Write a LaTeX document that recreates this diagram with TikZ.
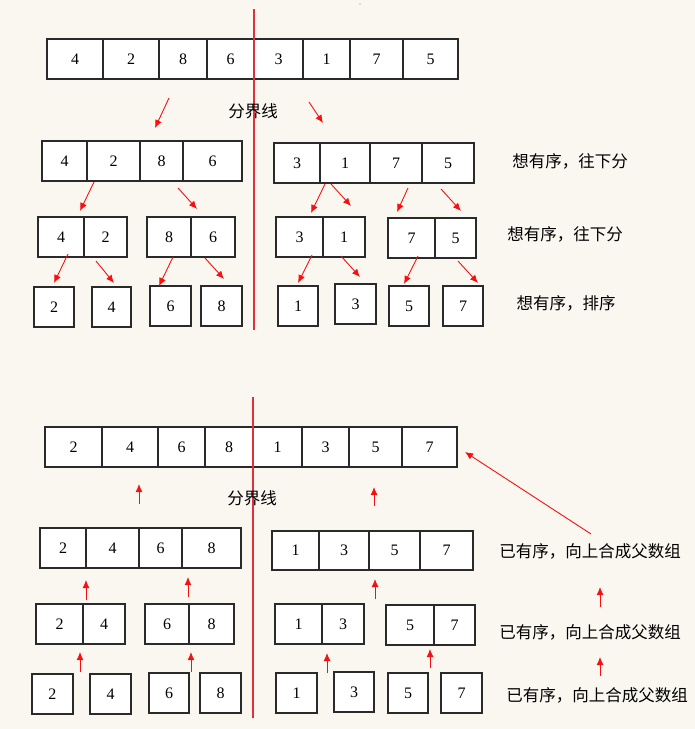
\documentclass[tikz,border=0pt]{standalone}
\usepackage{fontspec}
\setmainfont{Liberation Serif}
\newfontfamily\cjk{Noto Sans CJK SC}
\usepackage{xcolor}
\usetikzlibrary{arrows.meta}
\definecolor{paper}{HTML}{FAF7F1}
\definecolor{divred}{HTML}{E0303A}
\definecolor{arrred}{HTML}{F81010}
\definecolor{boxline}{HTML}{2A2A2A}

\begin{document}
\begin{tikzpicture}[x=1pt,y=-1pt,
  cell/.style={draw=boxline, line width=1.2pt, fill=white, inner sep=0pt,
    font=\fontsize{16}{18}\selectfont},
  divline/.style={divred, line width=1.8pt},
  arr/.style={arrred, line width=0.9pt, -{Latex[length=8pt,width=7pt]}},
  note/.style={font=\cjk\fontsize{16.5}{19}\selectfont, inner sep=0pt}]

\fill[paper] (0,0) rectangle (695,729);
\useasboundingbox (0,0) rectangle (695,729);
\fill[gray] (360,4) circle (0.6);

% upper half: splitting
\foreach \nm/\xa/\xb/\ya/\yb/\d in {
  ua1/47/103/39/79/4, ua2/103/159/39/79/2, ua3/159/207/39/79/8, ua4/207/254/39/79/6,
  ua5/254/303/39/79/3, ua6/303/350/39/79/1, ua7/350/403/39/79/7, ua8/403/458/39/79/5,
  ub1/42/87/141/181/4, ub2/87/140/141/181/2, ub3/140/183/141/181/8, ub4/183/242/141/181/6,
  ub5/274/320/143/183/3, ub6/320/370/143/183/1, ub7/370/422/143/183/7, ub8/422/474/143/183/5,
  uc1/38/84/217/257/4, uc2/84/127/217/257/2, uc3/147/191/217/257/8, uc4/191/235/217/257/6,
  uc5/276/323/217/257/3, uc6/323/365/217/257/1, uc7/388/435/218/258/7, uc8/435/476/218/258/5,
  ud1/34/74/287/327/2, ud2/92/131/287/327/4, ud3/150/191/286/326/6, ud4/201/242/286/326/8,
  ud5/278/318/286/326/1, ud6/335/376/284/324/3, ud7/389/429/286/326/5, ud8/443/483/286/326/7}
  \node[cell, minimum width={(\xb-\xa)*1pt}, minimum height={(\yb-\ya)*1pt}]
    (\nm) at ({(\xa+\xb)/2},{(\ya+\yb)/2}) {\d};

% lower half: merging
\foreach \nm/\xa/\xb/\ya/\yb/\d in {
  la1/45/102/427/467/2, la2/102/158/427/467/4, la3/158/205/427/467/6, la4/205/253/427/467/8,
  la5/253/302/427/467/1, la6/302/349/427/467/3, la7/349/402/427/467/5, la8/402/457/427/467/7,
  lb1/40/86/528/568/2, lb2/86/139/528/568/4, lb3/139/182/528/568/6, lb4/182/241/528/568/8,
  lb5/272/319/531/570/1, lb6/319/369/531/570/3, lb7/369/420/531/570/5, lb8/420/473/531/570/7,
  lc1/36/83/604/644/2, lc2/83/125/604/644/4, lc3/145/189/604/644/6, lc4/189/234/604/644/8,
  lc5/275/322/604/644/1, lc6/322/364/604/644/3, lc7/386/434/605/645/5, lc8/434/475/605/645/7,
  ld1/32/73/674/714/2, ld2/90/131/674/714/4, ld3/149/189/673/713/6, ld4/200/241/673/713/8,
  ld5/276/317/673/713/1, ld6/334/374/672/712/3, ld7/388/428/673/713/5, ld8/441/482/673/713/7}
  \node[cell, minimum width={(\xb-\xa)*1pt}, minimum height={(\yb-\ya)*1pt}]
    (\nm) at ({(\xa+\xb)/2},{(\ya+\yb)/2}) {\d};

% dividing lines
\coordinate (ut) at (254,9);
\coordinate (ub) at (254,330);
\coordinate (lt) at (253,397);
\coordinate (lbt) at (253,718);
\draw[divline] (ut) -- (ub);
\draw[divline] (lt) -- (lbt);

\node[note] (usplit) at (253,111) {分界线};
\node[note] (lsplit) at (252,498) {分界线};

% side notes
\node[note] (un1) at (570,161) {想有序，往下分};
\node[note] (un2) at (565,234) {想有序，往下分};
\node[note] (un3) at (566,303) {想有序，排序};
\node[note] (ln1) at (590,551) {已有序，向上合成父数组};
\node[note] (ln2) at (590,632) {已有序，向上合成父数组};
\node[note] (ln3) at (597,695) {已有序，向上合成父数组};

% arrows
\foreach \nm/\xa/\ya/\xb/\yb in {
  p1/169/98/155/128, p2/309/102/323/123,
  p3/94/182/80/211, p4/178/188/197/209,
  p5/325/184/311/213, p6/331/184/351/206, p7/408/188/397/212, p8/441/189/461/211,
  p9/68/254/54/283, p10/96/261/114/283, p11/173/257/159/286, p12/205/258/224/279,
  p13/312/255/298/283, p14/341/256/360/277, p15/418/256/404/284, p16/458/261/478/283,
  q1/139/504/139/484, q2/374/506/374/487, q3/591/534/465/452,
  q4/86/600/86/580, q5/188/597/188/577, q6/375/599/375/579, q7/600/607/600/587,
  q8/80/672/80/652, q9/191/672/191/652, q10/327/673/327/653, q11/430/668/430/649,
  q12/600/676/600/657}
  {\coordinate (\nm s) at (\xa,\ya);
   \coordinate (\nm e) at (\xb,\yb);
   \draw[arr] (\nm s) -- (\nm e);}
\end{tikzpicture}
\end{document}
